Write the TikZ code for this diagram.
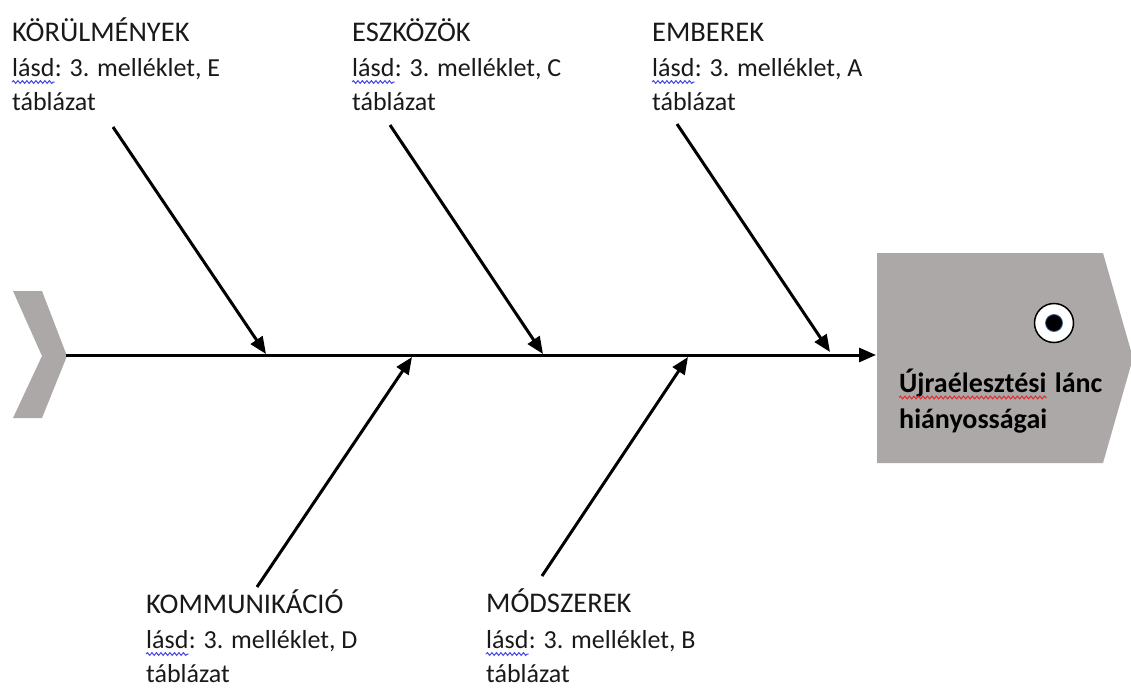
\documentclass[tikz,border=0pt]{standalone}
\usepackage{fontspec}
\setmainfont{Carlito}
\usetikzlibrary{arrows.meta,decorations.pathmorphing,calc}
\definecolor{fishgray}{RGB}{171,168,167}
\definecolor{spellblue}{RGB}{70,70,230}
\definecolor{spellred}{RGB}{230,40,40}
\begin{document}
\begin{tikzpicture}[x=1pt,y=-1pt,
  lbl/.style={inner sep=0pt,anchor=base west,font=\fontsize{26}{35}\selectfont,text=black!90},
  ttl/.style={inner sep=0pt,anchor=base west,font=\fontsize{28.5}{35}\selectfont,text=black!90},
  headlbl/.style={inner sep=0pt,anchor=base west,font=\fontsize{28}{36}\selectfont\bfseries,text=black},
  bone/.style={line width=3pt,-{Triangle[length=17pt,width=14pt]}},
  wavyblue/.style={spellblue,line width=1pt,decorate,decoration={snake,amplitude=1.4pt,segment length=4.5pt}},
  wavyred/.style={spellred,line width=1pt,decorate,decoration={snake,amplitude=1.4pt,segment length=4.5pt}}]
\useasboundingbox (0,0) rectangle (1131,688);
% tail chevron
\fill[fishgray] (13,291) -- (42,291) -- (67,356) -- (42,418) -- (13,418) -- (42,356) -- cycle;
\coordinate (tail) at (66,355);
% head
\fill[fishgray] (877,253) -- (1103,253) -- (1133,358) -- (1103,463) -- (877,463) -- cycle;
\coordinate (head) at (876,355);
\node[circle,draw=black,line width=1.5pt,fill=white,minimum size=39pt,inner sep=0pt] (eye) at (1054,323) {};
\node[circle,draw={rgb,255:red,60;green,100;blue,150},line width=0.8pt,fill=black,minimum size=17pt,inner sep=0pt] (pupil) at (eye.center) {};
\node[headlbl] (h1) at (899,392) {Újraélesztési};
\node[headlbl] (h1b) at ($(h1.base east)+(8,0)$) {lánc};
\node[headlbl] (h2) at (899,428) {hiányosságai};
\draw[wavyred] ($(h1.base west)+(0,5.5)$) -- ($(h1.base east)+(0,5.5)$);
% spine
\draw[bone] (tail) -- (head);
% bones
\coordinate (s1) at (113,127); \coordinate (e1) at (266,354);
\coordinate (s2) at (390,125); \coordinate (e2) at (543,354);
\coordinate (s3) at (677,124); \coordinate (e3) at (830,352);
\coordinate (s4) at (257,587); \coordinate (e4) at (412,357);
\coordinate (s5) at (542,576); \coordinate (e5) at (688,357);
\draw[bone] (s1) -- (e1);
\draw[bone] (s2) -- (e2);
\draw[bone] (s3) -- (e3);
\draw[bone] (s4) -- (e4);
\draw[bone] (s5) -- (e5);
% labels top
\node[ttl] (t1) at (12,41) {KÖRÜLMÉNYEK};
\node[lbl] (t1a) at (12,76) {lásd};
\node[lbl] (t1b) at (t1a.base east) {: 3. melléklet, E};
\node[lbl] (t1c) at (12,110) {táblázat};
\draw[wavyblue] ($(t1a.base west)+(0,6)$) -- ($(t1a.base east)+(0,6)$);
\node[ttl] (t2) at (352,41) {ESZKÖZÖK};
\node[lbl] (t2a) at (352,76) {lásd};
\node[lbl] (t2b) at (t2a.base east) {: 3. melléklet, C};
\node[lbl] (t2c) at (352,110) {táblázat};
\draw[wavyblue] ($(t2a.base west)+(0,6)$) -- ($(t2a.base east)+(0,6)$);
\node[ttl] (t3) at (652,41) {EMBEREK};
\node[lbl] (t3a) at (652,76) {lásd};
\node[lbl] (t3b) at (t3a.base east) {: 3. melléklet, A};
\node[lbl] (t3c) at (652,110) {táblázat};
\draw[wavyblue] ($(t3a.base west)+(0,6)$) -- ($(t3a.base east)+(0,6)$);
% labels bottom
\node[ttl] (b1) at (146,613) {KOMMUNIKÁCIÓ};
\node[lbl] (b1a) at (146,648) {lásd};
\node[lbl] (b1b) at (b1a.base east) {: 3. melléklet, D};
\node[lbl] (b1c) at (146,682) {táblázat};
\draw[wavyblue] ($(b1a.base west)+(0,6)$) -- ($(b1a.base east)+(0,6)$);
\node[ttl] (b2) at (486,612) {MÓDSZEREK};
\node[lbl] (b2a) at (486,648) {lásd};
\node[lbl] (b2b) at (b2a.base east) {: 3. melléklet, B};
\node[lbl] (b2c) at (486,682) {táblázat};
\draw[wavyblue] ($(b2a.base west)+(0,6)$) -- ($(b2a.base east)+(0,6)$);
\end{tikzpicture}
\end{document}
